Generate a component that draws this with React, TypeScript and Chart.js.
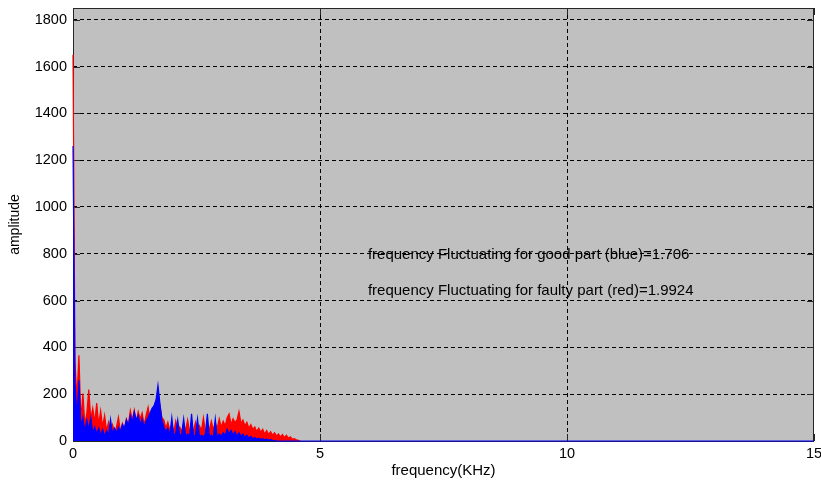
import React, { useEffect, useRef } from "react";
import { Chart, registerables } from "chart.js";

Chart.register(...registerables);

// ---- data ----
const FREQ_STEP_KHZ = 0.04; // spacing of the spectrum bins (kHz)
const X_MIN = 0;
const X_MAX = 15;
const Y_MIN = 0;
const Y_MAX = 1850;
const X_TICK_STEP = 5;
const Y_TICK_STEP = 200;

const X_TITLE = "frequency(KHz)";
const Y_TITLE = "amplitude";

// faulty part spectrum (red), one value per bin starting at 0 kHz
const faultyAmp = [
  1650, 340, 180, 366, 90, 203, 70, 120, 220, 95,
  140, 80, 162, 70, 130, 60, 110, 45, 80, 40,
  70, 35, 60, 102, 40, 75, 50, 95, 70, 130,
  90, 132, 80, 125, 95, 120, 70, 110, 145, 90,
  120, 150, 170, 200, 150, 100, 90, 55, 80, 45,
  70, 40, 85, 45, 60, 40, 75, 45, 90, 40,
  60, 45, 80, 40, 65, 45, 100, 40, 60, 50,
  85, 50, 75, 55, 95, 60, 85, 65, 100, 116,
  70, 95, 80, 90, 126, 75, 90, 65, 80, 55,
  70, 50, 60, 40, 55, 38, 50, 30, 45, 28,
  40, 25, 35, 22, 30, 18, 28, 15, 25, 12,
  18, 8, 10, 5, 3, 0,
];

// good part spectrum (blue), one value per bin starting at 0 kHz
const goodAmp = [
  1260, 250, 100, 259, 60, 100, 40, 90, 50, 100,
  35, 60, 30, 55, 25, 50, 20, 45, 25, 92,
  30, 55, 35, 60, 40, 70, 55, 90, 65, 110,
  80, 125, 90, 110, 70, 95, 60, 85, 100, 120,
  140, 150, 175, 238, 160, 90, 60, 40, 55, 25,
  100, 20, 35, 90, 20, 30, 95, 20, 30, 20,
  116, 20, 25, 95, 20, 25, 18, 30, 116, 18,
  25, 15, 95, 15, 30, 20, 35, 25, 50, 30,
  45, 25, 40, 20, 35, 20, 30, 15, 25, 12,
  20, 10, 15, 8, 12, 6, 10, 5, 8, 4,
  6, 3, 2, 0,
];

const noteTexts = [
  "frequency Fluctuating for good part (blue)=1.706",
  "frequency Fluctuating for faulty part (red)=1.9924",
];
const noteX = [5.97, 5.97];
const noteY = [797, 643];

// ---- helpers ----
function toPoints(values: number[], extendToEnd: boolean) {
  const pts = values.map((v, i) => ({ x: +(i * FREQ_STEP_KHZ).toFixed(3), y: v }));
  if (extendToEnd) pts.push({ x: X_MAX, y: 0 });
  return pts;
}

const FONT = '"Liberation Sans", Arial, sans-serif';

const matlabAxes = {
  id: "matlabAxes",
  beforeDraw(chart: any) {
    const { ctx, chartArea } = chart;
    ctx.save();
    ctx.fillStyle = "#ffffff";
    ctx.fillRect(0, 0, chart.width, chart.height);
    ctx.fillStyle = "#c0c0c0";
    ctx.fillRect(chartArea.left, chartArea.top, chartArea.right - chartArea.left, chartArea.bottom - chartArea.top);
    ctx.restore();
  },
  beforeDatasetsDraw(chart: any) {
    const { ctx, chartArea, scales } = chart;
    const { left, right, top, bottom } = chartArea;
    ctx.save();
    ctx.strokeStyle = "#262626";
    ctx.lineWidth = 1;
    ctx.setLineDash([]);
    ctx.strokeRect(left + 0.5, top + 0.5, right - left - 1, bottom - top);
    const tl = 7;
    ctx.beginPath();
    scales.y.ticks.forEach((t: any) => {
      const y = Math.round(scales.y.getPixelForValue(t.value)) + 0.5;
      ctx.moveTo(left, y);
      ctx.lineTo(left + tl, y);
      ctx.moveTo(right, y);
      ctx.lineTo(right - tl, y);
    });
    scales.x.ticks.forEach((t: any) => {
      const x = Math.round(scales.x.getPixelForValue(t.value)) + 0.5;
      ctx.moveTo(x, bottom);
      ctx.lineTo(x, bottom - tl);
      ctx.moveTo(x, top);
      ctx.lineTo(x, top + tl);
    });
    ctx.stroke();
    ctx.restore();
  },
  afterDraw(chart: any) {
    const { ctx, scales } = chart;
    ctx.save();
    ctx.fillStyle = "#000000";
    ctx.font = `15px ${FONT}`;
    ctx.textAlign = "left";
    ctx.textBaseline = "middle";
    noteTexts.forEach((t, i) => {
      ctx.fillText(t, scales.x.getPixelForValue(noteX[i]), scales.y.getPixelForValue(noteY[i]));
    });
    ctx.restore();
  },
};

export default function App() {
  const canvasRef = useRef<HTMLCanvasElement | null>(null);

  useEffect(() => {
    if (!canvasRef.current) return;
    const gridColor = (edgeValues: number[]) => (c: any) =>
      c.tick && edgeValues.includes(c.tick.value) ? "rgba(0,0,0,0)" : "#000000";

    const chart = new Chart(canvasRef.current, {
      type: "line",
      data: {
        datasets: [
          {
            label: "good part",
            data: toPoints(goodAmp, true),
            borderColor: "#0000ff",
            backgroundColor: "#0000ff",
            borderWidth: 1.2,
            pointRadius: 0,
            tension: 0,
            fill: "origin",
            clip: 2,
          },
          {
            label: "faulty part",
            data: toPoints(faultyAmp, false),
            borderColor: "#ff0000",
            backgroundColor: "#ff0000",
            borderWidth: 1.2,
            pointRadius: 0,
            tension: 0,
            fill: "origin",
            clip: 2,
          },
        ],
      },
      options: {
        animation: false,
        responsive: false,
        devicePixelRatio: 1,
        layout: { padding: { left: 0, right: 7, top: 8, bottom: 0 } },
        plugins: {
          legend: { display: false },
          tooltip: { enabled: false },
          title: { display: false },
        },
        scales: {
          x: {
            type: "linear",
            min: X_MIN,
            max: X_MAX,
            afterFit: (s: any) => {
              s.height = 41;
              s.paddingLeft = 0;
              s.paddingRight = 0;
            },
            ticks: {
              stepSize: X_TICK_STEP,
              includeBounds: false,
              autoSkip: false,
              maxRotation: 0,
              padding: 4,
              color: "#000000",
              font: { family: FONT, size: 14.5 },
              callback: (v: any) => String(v),
            },
            grid: { color: gridColor([X_MIN, X_MAX]), lineWidth: 1, drawTicks: false },
            border: { display: false, dash: [4, 3] },
            title: {
              display: true,
              text: X_TITLE,
              color: "#000000",
              font: { family: FONT, size: 15 },
              padding: { top: 0, bottom: 2 },
            },
          },
          y: {
            type: "linear",
            min: Y_MIN,
            max: Y_MAX,
            afterFit: (s: any) => {
              s.width = 73;
              s.paddingTop = 0;
              s.paddingBottom = 0;
            },
            ticks: {
              stepSize: Y_TICK_STEP,
              includeBounds: false,
              autoSkip: false,
              padding: 6,
              color: "#000000",
              font: { family: FONT, size: 14.5 },
              callback: (v: any) => String(v),
            },
            grid: { color: gridColor([Y_MIN]), lineWidth: 1, drawTicks: false },
            border: { display: false, dash: [4, 3] },
            title: {
              display: true,
              text: Y_TITLE,
              color: "#000000",
              font: { family: FONT, size: 14 },
              padding: { top: 7, bottom: 0 },
            },
          },
        },
      },
      plugins: [matlabAxes],
    } as any);

    return () => chart.destroy();
  }, []);

  return (
    <div style={{ position: "fixed", left: 0, top: 0, width: 821, height: 482, background: "#fff" }}>
      <canvas ref={canvasRef} width={821} height={482} style={{ display: "block" }} />
    </div>
  );
}
